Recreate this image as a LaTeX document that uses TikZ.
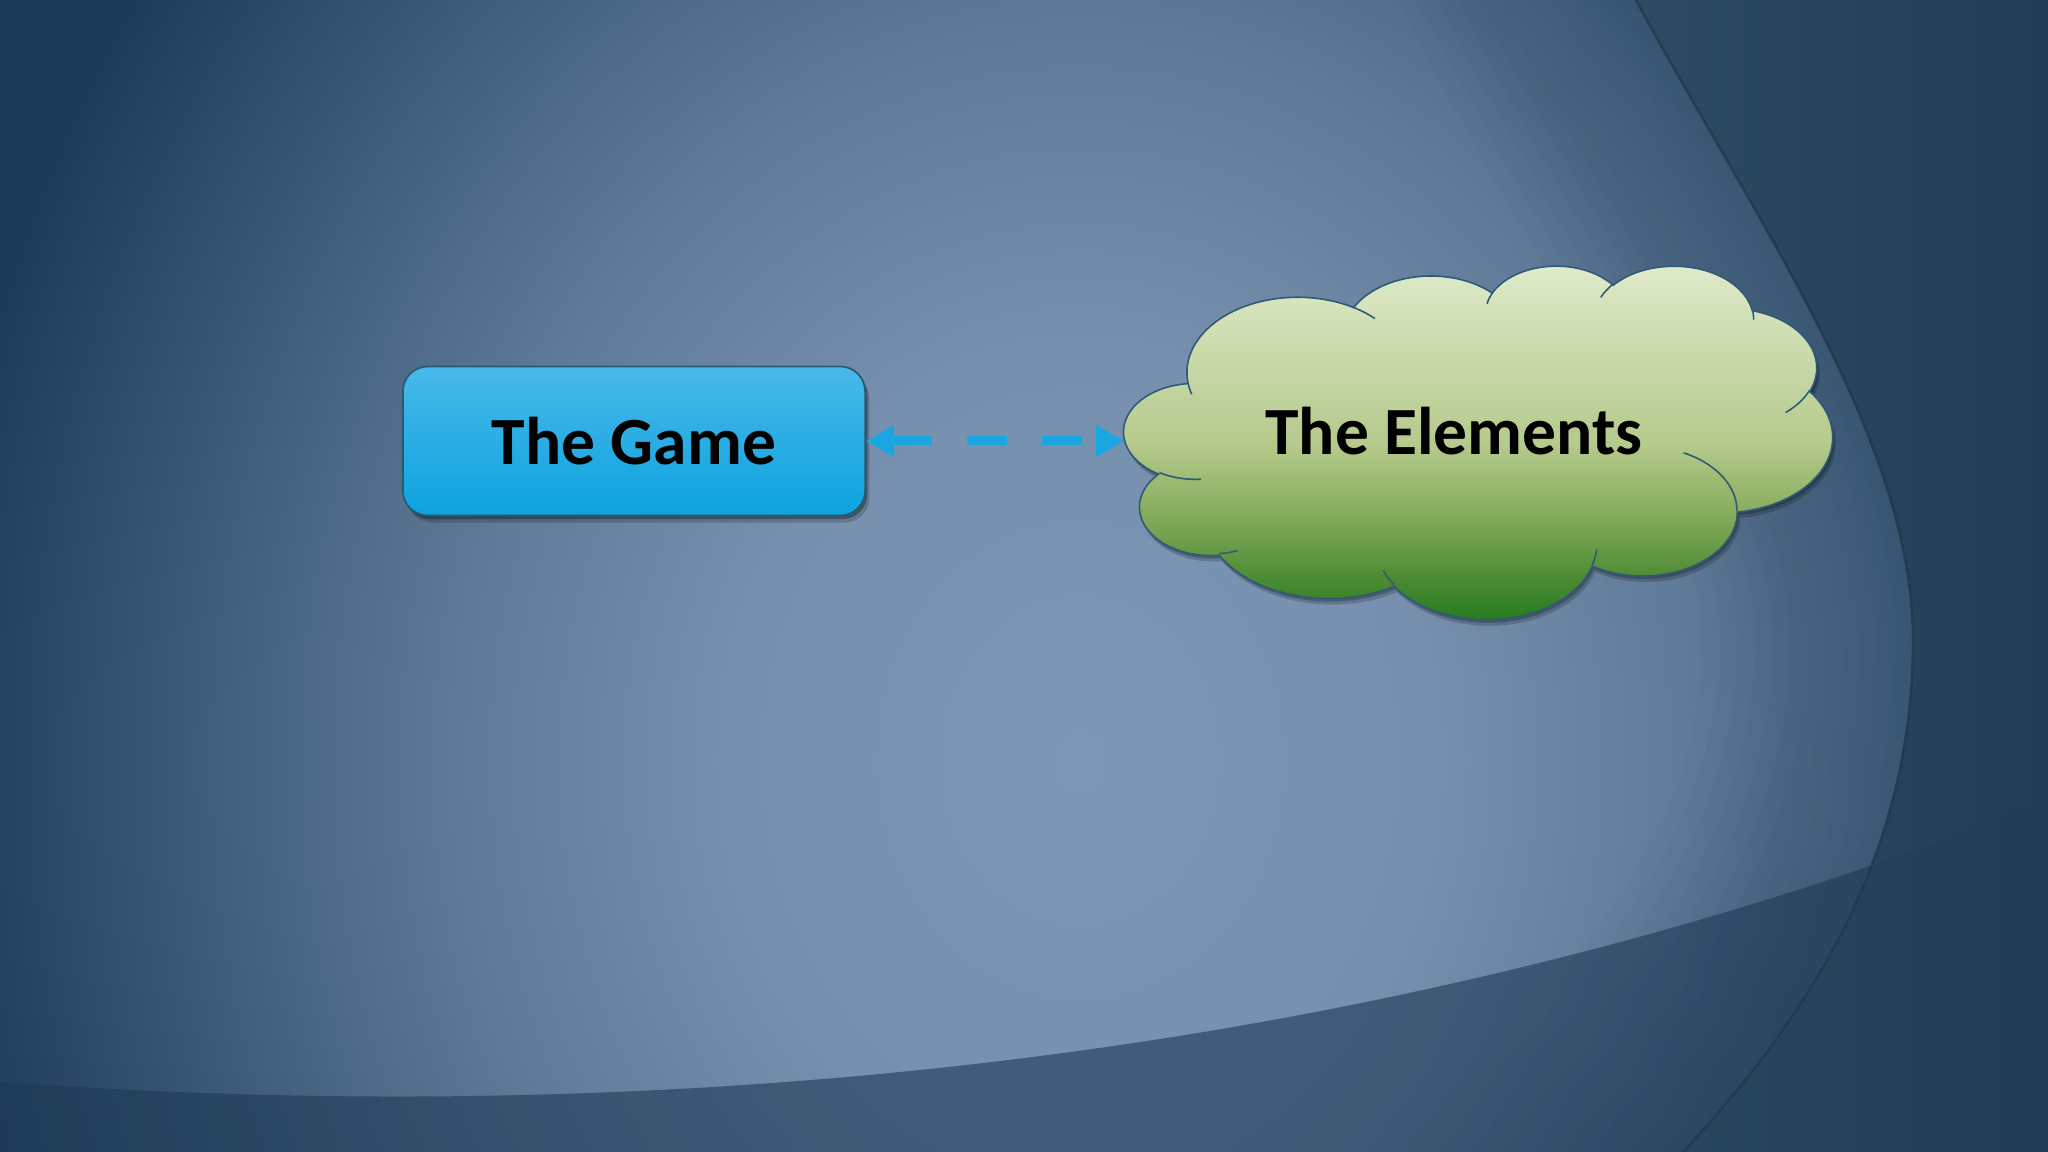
\documentclass[tikz,border=0pt]{standalone}
\usepackage{fontspec}
\setmainfont{Carlito}
\usetikzlibrary{arrows.meta,shadows}

\definecolor{bgA}{HTML}{7C97B6}
\definecolor{bgB}{HTML}{7690AE}
\definecolor{bgC}{HTML}{5F7A97}
\definecolor{bgD}{HTML}{42607D}
\definecolor{bgE}{HTML}{1D3B58}
\definecolor{outL}{HTML}{2E4B64}
\definecolor{outR}{HTML}{203C56}
\definecolor{bandc}{HTML}{1E3A55}
\definecolor{arcc}{HTML}{22384D}
\definecolor{gameTop}{HTML}{49B8EA}
\definecolor{gameBot}{HTML}{0CA3DF}
\definecolor{gameEdge}{HTML}{285A76}
\definecolor{arrowc}{HTML}{1AA7E1}
\definecolor{cgA}{HTML}{1E781C}
\definecolor{cgB}{HTML}{4A8A33}
\definecolor{cgC}{HTML}{86AB5C}
\definecolor{cgD}{HTML}{B5CA8C}
\definecolor{cgE}{HTML}{E0EBCC}
\definecolor{cloudEdge}{HTML}{2E5A77}

% TikZ maps a path's bounding box onto the central half of a shading
\pgfdeclareradialshading{bgglow}{\pgfpointorigin}{color(0bp)=(bgA); color(7.5bp)=(bgB); color(13.5bp)=(bgC); color(18.5bp)=(bgD); color(25bp)=(bgE); color(50bp)=(bgE)}
\pgfdeclareverticalshading{cloudgrad}{100bp}{color(0bp)=(cgA); color(25bp)=(cgA); color(31.5bp)=(cgB); color(40.5bp)=(cgC); color(50bp)=(cgD); color(75bp)=(cgE); color(100bp)=(cgE)}

\newcommand\lblfont{\bfseries\fontsize{19.2}{23}\selectfont}

% convert a DrawingML arc (true angles) to TikZ parametric angles
\newcommand\cldconv[5]{%
  \pgfmathsetmacro\cldtmpS{atan2((#2)*sin(#4),(#3)*cos(#4))}%
  \pgfmathsetmacro\cldtmpE{atan2((#2)*sin((#4)+(#5)),(#3)*cos((#4)+(#5)))}%
  \pgfmathsetmacro\cldtmpD{(\cldtmpE)-(\cldtmpS)}%
  \pgfmathsetmacro\cldtmpD{(\cldtmpD)-360*round(((\cldtmpD)-(#5))/360)}%
  \expandafter\xdef\csname cldS#1\endcsname{\cldtmpS}%
  \expandafter\xdef\csname cldD#1\endcsname{\cldtmpD}%
}
\cldconv{a}{67.53}{91.90}{-190.48748}{123.78053}
\cldconv{b}{53.33}{72.67}{-144.10238}{89.94523}
\cldconv{c}{43.65}{59.45}{-145.80792}{99.72302}
\cldconv{d}{48.57}{65.95}{-130.98607}{117.24173}
\cldconv{e}{53.33}{72.73}{-78.70888}{109.02692}
\cldconv{f}{67.75}{92.20}{-46.26725}{130.269}
\cldconv{g}{57.85}{78.67}{0.62502}{114.03333}
\cldconv{h}{67.52}{92.15}{22.4516}{115.17255}
\cldconv{i}{77.20}{105.43}{66.24263}{75.71102}
\cldconv{j}{43.60}{59.18}{-274.94208}{146.73557}
\cldconv{k}{43.45}{59.45}{-246.8285}{152.51885}
\cldconv{l}{43.45}{59.45}{86.742}{26.4295}
\cldconv{m}{43.60}{59.18}{73.61047}{11.44747}
\cldconv{n}{67.52}{92.15}{137.62415}{14.0811}
\cldconv{o}{67.52}{92.15}{6.45327}{15.99835}
\cldconv{p}{57.85}{78.67}{-70.29235}{70.91737}
\cldconv{q}{53.33}{72.73}{30.31803}{27.7515}
\cldconv{r}{48.57}{65.95}{-13.74433}{14.8589}
\cldconv{s}{48.57}{65.95}{-149.18145}{18.19537}
\cldconv{t}{43.65}{59.45}{-163.49427}{17.68635}
\cldconv{u}{67.53}{91.90}{-66.70695}{12.31935}
\cldconv{v}{67.53}{91.90}{157.65435}{11.85817}

\def\cloudoutline{(39,143.7)
 arc[start angle=\cldSa,delta angle=\cldDa,x radius=67.53,y radius=91.90]
 arc[start angle=\cldSb,delta angle=\cldDb,x radius=53.33,y radius=72.67]
 arc[start angle=\cldSc,delta angle=\cldDc,x radius=43.65,y radius=59.45]
 arc[start angle=\cldSd,delta angle=\cldDd,x radius=48.57,y radius=65.95]
 arc[start angle=\cldSe,delta angle=\cldDe,x radius=53.33,y radius=72.73]
 arc[start angle=\cldSf,delta angle=\cldDf,x radius=67.75,y radius=92.20]
 arc[start angle=\cldSg,delta angle=\cldDg,x radius=57.85,y radius=78.67]
 arc[start angle=\cldSh,delta angle=\cldDh,x radius=67.52,y radius=92.15]
 arc[start angle=\cldSi,delta angle=\cldDi,x radius=77.20,y radius=105.43]
 arc[start angle=\cldSj,delta angle=\cldDj,x radius=43.60,y radius=59.18]
 arc[start angle=\cldSk,delta angle=\cldDk,x radius=43.45,y radius=59.45]
 -- cycle}
\def\cloudinner{
 (46.93,261.77) arc[start angle=\cldSl,delta angle=\cldDl,x radius=43.45,y radius=59.45]
 (69.28,348.99) arc[start angle=\cldSm,delta angle=\cldDm,x radius=43.60,y radius=59.18]
 (164.78,390.90) arc[start angle=\cldSn,delta angle=\cldDn,x radius=67.52,y radius=92.15]
 (288.27,347.51) arc[start angle=\cldSo,delta angle=\cldDo,x radius=67.52,y radius=92.15]
 (341.29,229.54) arc[start angle=\cldSp,delta angle=\cldDp,x radius=57.85,y radius=78.67]
 (417.98,153.54) arc[start angle=\cldSq,delta angle=\cldDq,x radius=53.33,y radius=72.73]
 (383.24,54.26) arc[start angle=\cldSr,delta angle=\cldDr,x radius=48.57,y radius=65.95]
 (290.78,39.52) arc[start angle=\cldSs,delta angle=\cldDs,x radius=48.57,y radius=65.95]
 (221.41,47.20) arc[start angle=\cldSt,delta angle=\cldDt,x radius=43.65,y radius=59.45]
 (140.00,51.92) arc[start angle=\cldSu,delta angle=\cldDu,x radius=67.53,y radius=91.90]
 (41.27,157.89) arc[start angle=\cldSv,delta angle=\cldDv,x radius=67.53,y radius=91.90]}

\def\arcpath{(1636,0) .. controls (1755,220) and (1913,440) .. (1913,640) .. controls (1913,840) and (1823,1002) .. (1683,1152)}
\def\arcext{(1560,-140) -- \arcpath -- (1560,1284)}
\def\litregion{(0,0) -- \arcpath -- (0,1152) -- cycle}
\def\outregion{\arcpath -- (2048,1152) -- (2048,0) -- cycle}
\def\bandregion{(0,1082) .. controls (800,1140) and (1500,1020) .. (2048,800) -- (2048,1152) -- (0,1152) -- cycle}

\tikzset{
  gamebox/.style={rectangle, rounded corners=7.1pt, minimum width=4.62cm, minimum height=1.49cm,
    inner sep=0pt, top color=gameTop, bottom color=gameBot, draw=gameEdge, line width=0.5pt,
    font=\lblfont, text=black,
    drop shadow={shadow xshift=1.2pt, shadow yshift=-2pt, opacity=0.18, fill=black},
    drop shadow={shadow xshift=0.6pt, shadow yshift=-1pt, opacity=0.3, fill=black}},
  lbl/.style={font=\lblfont, text=black, inner sep=0pt},
  dasharrow/.style={draw=arrowc, line width=2.56pt, dash pattern=on 11.4pt off 9.8pt,
    {Triangle[length=8pt,width=8.6pt]}-{Triangle[length=8pt,width=8.6pt]}},
  cloudline/.style={draw=cloudEdge, line width=0.45pt},
  arcline/.style={draw=arcc, line width=0.7pt, opacity=0.85},
  vignette/.style={draw=bandc, opacity=0.025, line join=round}
}

\begin{document}
\begin{tikzpicture}[x=0.01cm,y=-0.01cm]
\useasboundingbox (0,0) rectangle (2048,1152);
\clip (0,0) rectangle (2048,1152);
% background
\fill[bgE] (0,0) rectangle (2048,1152);
\shade[shading=bgglow] (1080,760) ellipse [x radius=1150, y radius=1350];
\begin{scope}
  \clip \litregion;
  \foreach \w in {10,20,...,120} {\draw[vignette, line width=\w pt] \arcext;}
  \fill[bandc, opacity=0.5] \bandregion;
\end{scope}
\shade[left color=outL, right color=outR] \outregion;
\fill[bandc, opacity=0.2] \bandregion;
\draw[arcline] \arcpath;

% cloud shadow
\begin{scope}[shift={(1127,271)}, x=0.01638889cm, y=-0.008171296cm]
  \fill[black, opacity=0.18] \cloudoutline;
\end{scope}
\begin{scope}[shift={(1125.5,268)}, x=0.01638889cm, y=-0.008171296cm]
  \fill[black, opacity=0.22] \cloudoutline;
\end{scope}
% cloud
\begin{scope}[shift={(1124,265)}, x=0.01638889cm, y=-0.008171296cm]
  \shade[shading=cloudgrad] \cloudoutline;
  \draw[cloudline] \cloudoutline;
  \draw[cloudline] \cloudinner;
\end{scope}

% nodes
\node[gamebox] (game) at (634,441) {The Game};
\node[lbl] (elements) at (1454,431) {The Elements};
\coordinate (cloudW) at (1124,441);

% connector
\draw[dasharrow] (game.east) -- (cloudW);
\end{tikzpicture}
\end{document}
